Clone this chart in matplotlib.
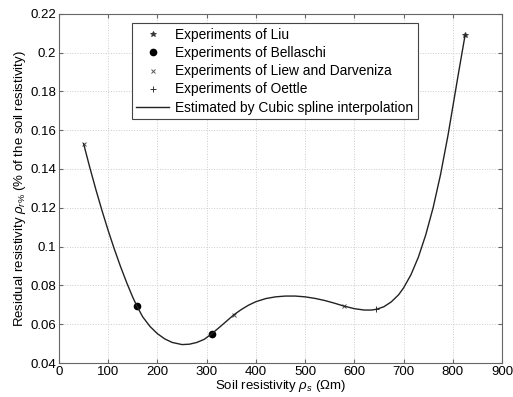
import matplotlib.pyplot as plt

plt.rcParams['font.family'] = ['Liberation Sans', 'DejaVu Sans']
plt.rcParams['mathtext.fontset'] = 'custom'
plt.rcParams['mathtext.rm'] = 'Liberation Sans'
plt.rcParams['mathtext.it'] = 'Liberation Sans:italic'

# experiment points (soil resistivity in Ohm m, residual resistivity)
liu_x = [825]
liu_y = [0.209]
bellaschi_x = [158, 310]
bellaschi_y = [0.0695, 0.055]
liew_x = [50, 355, 578]
liew_y = [0.153, 0.0648, 0.0694]
oettle_x = [645]
oettle_y = [0.0677]

# curve
curve_x = [50, 62, 75, 88, 100, 112, 125, 138, 150, 158, 170, 185, 200, 215, 230,
           250, 265, 280, 295, 310, 325, 340, 355, 370, 385, 400, 420, 440, 460,
           480, 500, 520, 540, 560, 578, 600, 620, 635, 645, 660, 675, 690, 700,
           715, 730, 745, 760, 775, 790, 800, 812, 825]
curve_y = [0.153, 0.1413, 0.1293, 0.1180, 0.1082, 0.0990, 0.0897, 0.0811, 0.0738,
           0.0695, 0.0638, 0.0588, 0.0551, 0.0524, 0.0506,
           0.0495, 0.0497, 0.0506, 0.0522, 0.055, 0.0582, 0.0615, 0.0648, 0.0675,
           0.0698, 0.0716, 0.0732, 0.0741, 0.0745, 0.0745, 0.0741, 0.0733, 0.0722,
           0.0708, 0.0694, 0.0680, 0.0673, 0.0673, 0.0677, 0.0690, 0.0715, 0.0752,
           0.0787, 0.0855, 0.0945, 0.1060, 0.1200, 0.1370, 0.1570, 0.1720, 0.1900,
           0.209]

fig, ax = plt.subplots(figsize=(5.13, 3.97), dpi=100)
fig.subplots_adjust(left=0.115, right=0.9786, bottom=0.0856, top=0.9655)

ax.plot(liu_x, liu_y, '*', color='#333333', ms=4, mew=0.6, label='Experiments of Liu')
ax.plot(bellaschi_x, bellaschi_y, 'o', color='black', ms=4.5, label='Experiments of Bellaschi')
ax.plot(liew_x, liew_y, 'x', color='#555555', ms=3.5, mew=0.7, label='Experiments of Liew and Darveniza')
ax.plot(oettle_x, oettle_y, '+', color='#333333', ms=4.5, mew=0.7, label='Experiments of Oettle')
ax.plot(curve_x, curve_y, '-', color='#222222', lw=1.0, label='Estimated by Cubic spline interpolation')

ax.set_xlim(0, 900)
ax.set_ylim(0.04, 0.22)
ax.set_xticks(range(0, 901, 100))
ax.set_yticks([0.04, 0.06, 0.08, 0.1, 0.12, 0.14, 0.16, 0.18, 0.2, 0.22])
ax.set_yticklabels(['0.04', '0.06', '0.08', '0.1', '0.12', '0.14', '0.16', '0.18', '0.2', '0.22'])
ax.grid(True, color='#cccccc', linestyle=':', linewidth=0.7)
ax.tick_params(direction='in', top=True, right=True, labelsize=9.5, length=3, color='#666666', pad=2)
for s in ax.spines.values():
    s.set_color('#666666')
    s.set_linewidth(0.8)

ax.set_xlabel(r'Soil resistivity $\rho_s$ ($\Omega$m)', fontsize=9.5, labelpad=0)
ax.set_ylabel(r'Residual resistivity $\rho_{r\%}$ (% of the soil resistivity)', fontsize=9.5, labelpad=2)

leg = ax.legend(loc='upper left', bbox_to_anchor=(0.164, 0.9725), borderaxespad=0,
                fontsize=9.9, fancybox=False, framealpha=1, edgecolor='#444444',
                handlelength=2.4, handletextpad=0.4, labelspacing=0.3, borderpad=0.35)
leg.get_frame().set_linewidth(0.8)

fig.savefig('out.png', dpi=100)
